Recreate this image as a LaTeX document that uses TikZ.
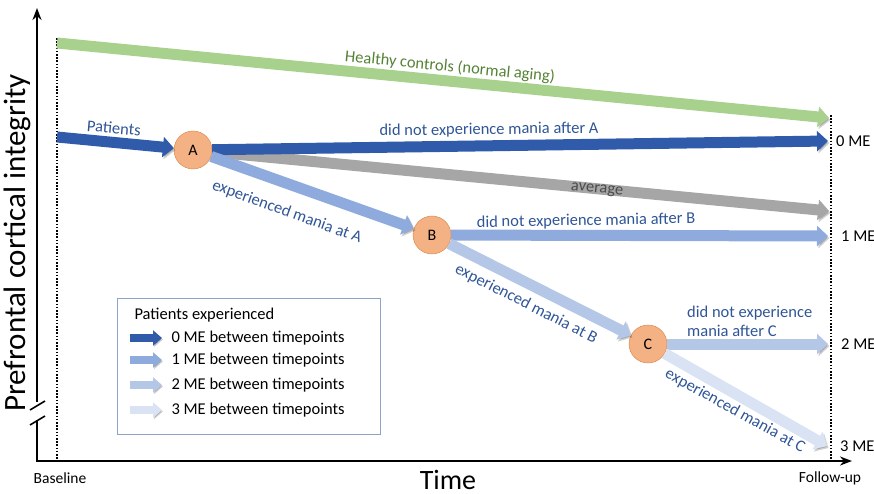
\documentclass[tikz,border=0pt]{standalone}
\usepackage{fontspec}
\setmainfont{Carlito}
\usetikzlibrary{arrows.meta}

\definecolor{hcgreen}{HTML}{A9D18E}
\definecolor{hctext}{HTML}{548235}
\definecolor{me0}{HTML}{2F5BAA}
\definecolor{me1}{HTML}{8FAADC}
\definecolor{me2}{HTML}{B4C7E7}
\definecolor{me3}{HTML}{DAE3F3}
\definecolor{avggray}{HTML}{A6A6A6}
\definecolor{bluetext}{HTML}{2F5597}
\definecolor{ptfill}{HTML}{F4B183}
\definecolor{ptdraw}{HTML}{D9823F}
\definecolor{legbox}{HTML}{8FA3C8}

\tikzset{
  band/.style={line width=11pt,-{Triangle[length=11pt,width=20pt]},
    preaction={draw=black,opacity=0.18,transform canvas={shift={(1.5pt,-2pt)}}}},
  keyarrow/.style={line width=8pt,-{Triangle[length=9pt,width=15pt]},shorten >=6pt,
    preaction={draw=black,opacity=0.18,transform canvas={shift={(1pt,-1.5pt)}}}},
  timepoint/.style={circle,draw=ptdraw,fill=ptfill,minimum size=38pt,inner sep=0pt,font=\fontsize{16}{18}\selectfont},
  tag/.style={text=bluetext,inner sep=1pt},
  endtag/.style={anchor=west,inner ysep=2pt},
}

\begin{document}
\begin{tikzpicture}[x=1pt,y=-1pt,font=\fontsize{16.5}{19}\selectfont,>=Stealth]
  \useasboundingbox (0,0) rectangle (874,494);
  % axes with a break on the vertical one
  \draw[line width=2pt,->] (37,402) -- (37,8);
  \draw[line width=2pt] (37,420) -- (37,461) -- (850,461);
  \draw[line width=2pt,->] (840,461) -- (852,461);
  \draw[line width=1.6pt] (30,410) -- (45,401);
  \draw[line width=1.6pt] (30,425) -- (45,416);
  \node[rotate=90,font=\fontsize{31}{33}\selectfont] (ylab) at (17,243) {Prefrontal cortical integrity};
  \node[anchor=base,inner sep=0pt,font=\fontsize{28}{30}\selectfont] (xlab) at (448,489) {Time};
  \node[font=\fontsize{15.5}{18}\selectfont] (base) at (60,478) {Baseline};
  \node[font=\fontsize{15.5}{18}\selectfont] (fup) at (830,478) {Follow-up};
  % baseline and follow-up
  \draw[line width=1.8pt,dash pattern=on 1.6pt off 1.6pt] (57,38) -- (57,460);
  \draw[line width=1.8pt,dash pattern=on 1.6pt off 1.6pt] (831,115) -- (831,460);

  % timepoints
  \node[timepoint] (A) at (193,150) {A};
  \node[timepoint] (B) at (432,235) {B};
  \node[timepoint] (C) at (648,344) {C};

  % number of ME at follow-up
  \node[endtag,inner xsep=8pt] (me0) at (828,141) {0 ME};
  \node[endtag,inner xsep=13pt] (me1) at (828,236) {1 ME};
  \node[endtag,inner xsep=13pt] (me2) at (828,344) {2 ME};
  \node[endtag,inner xsep=13pt] (me3) at (827,446) {3 ME};
  \coordinate (hc0) at (57,43);
  \coordinate (hc1) at (829,118);
  \coordinate (pt0) at (57,137);
  \coordinate (avg) at (829,211);

  % trajectories
  \draw[band,hcgreen] (hc0) -- (hc1);
  \draw[band,avggray] (A) -- (avg);
  \draw[band,me0] (pt0) -- (A);
  \draw[band,me0] (A) -- (me0.west);
  \draw[band,me1] (A) -- (B);
  \draw[band,me1] (B) -- (me1.west);
  \draw[band,me2] (B) -- (C);
  \draw[band,me2] (C) -- (me2.west);
  \draw[band,me3] (C) -- (me3.west);

  \node[text=hctext,rotate=-5.6] (hclab) at (450,67) {Healthy controls (normal aging)};
  \node[tag,rotate=-5] (ptlab) at (114,128) {Patients};
  \node[tag,rotate=0.8] (a0lab) at (489,130) {did not experience mania after A};
  \node[text=black!70,rotate=-5.5] (avglab) at (597,190) {average};
  \node[tag,rotate=-20] (a1lab) at (287,212) {experienced mania at A};
  \node[tag,rotate=1] (b0lab) at (586,221) {did not experience mania after B};
  \node[tag,rotate=-27] (b1lab) at (526,304) {experienced mania at B};
  \node[tag,anchor=west,align=left] (c0lab) at (686,321) {did not experience\\mania after C};
  \node[tag,rotate=-29] (c1lab) at (735,411) {experienced mania at C};

  % key
  \draw[legbox,line width=0.8pt] (117,298) rectangle (380,434);
  \node[anchor=west] (keyt) at (131,315) {Patients experienced};
  \node[anchor=west] (k0) at (168,338) {0 ME between timepoints};
  \node[anchor=west] (k1) at (168,360) {1 ME between timepoints};
  \node[anchor=west] (k2) at (168,385) {2 ME between timepoints};
  \node[anchor=west] (k3) at (168,410) {3 ME between timepoints};
  \coordinate (s0) at (130,338);
  \coordinate (s1) at (130,360);
  \coordinate (s2) at (130,385);
  \coordinate (s3) at (130,410);
  \draw[keyarrow,me0] (s0) -- (k0.west);
  \draw[keyarrow,me1] (s1) -- (k1.west);
  \draw[keyarrow,me2] (s2) -- (k2.west);
  \draw[keyarrow,me3] (s3) -- (k3.west);
\end{tikzpicture}
\end{document}
